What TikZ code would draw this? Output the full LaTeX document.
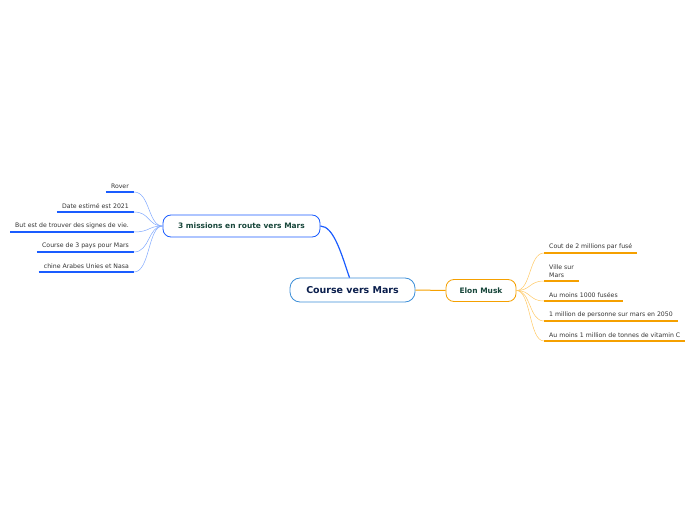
\documentclass[tikz,border=0pt]{standalone}
\usepackage{fontspec}
\setmainfont{DejaVu Sans}
\usetikzlibrary{positioning}
\definecolor{MarsBlue}{HTML}{1A5CFF}
\definecolor{MarsSky}{HTML}{3D8FD8}
\definecolor{MarsPaleBlue}{HTML}{7FA8FF}
\definecolor{MarsOrange}{HTML}{F5A000}
\definecolor{MarsPaleOrange}{HTML}{FFC864}
\definecolor{MarsNavy}{HTML}{0B1F4D}
\definecolor{MarsGreen}{HTML}{17463A}
\definecolor{MarsGray}{HTML}{333333}
\tikzset{
    % Central topic
    centralnode/.style={
        draw=MarsSky,
        fill=white,
        line width=0.8bp,
        rounded corners=10bp,
        minimum width=125bp,
        minimum height=24bp,
        text=MarsNavy,
        font=\fontsize{9.5}{11}\selectfont\bfseries
    },
    % Main topic
    topicnode/.style={
        fill=white,
        line width=0.8bp,
        rounded corners=8bp,
        minimum height=22bp,
        text=MarsGreen,
        font=\fontsize{7.5}{9}\selectfont\bfseries
    },
    % Leaf text on the left
    leftleaf/.style={
        anchor=south east,
        inner xsep=5bp,
        inner ysep=3.5bp,
        align=right,
        text=MarsGray,
        font=\fontsize{6.2}{8}\selectfont
    },
    % Leaf text on the right
    rightleaf/.style={
        anchor=south west,
        inner xsep=5bp,
        inner ysep=3.5bp,
        align=left,
        text=MarsGray,
        font=\fontsize{6.2}{8}\selectfont
    },
    % Connectors
    bluelink/.style={draw=MarsBlue, line width=1.2bp},
    orangelink/.style={draw=MarsOrange, line width=1bp},
    palebluelink/.style={draw=MarsPaleBlue, line width=0.5bp},
    paleorangelink/.style={draw=MarsPaleOrange, line width=0.5bp},
    % Underlines
    blueunder/.style={draw=MarsBlue, line width=1.6bp},
    orangeunder/.style={draw=MarsOrange, line width=1.6bp}
}
\begin{document}
\begin{tikzpicture}[x=1bp, y=-1bp]
    \useasboundingbox (0,0) rectangle (696,520);

    \node[centralnode] (mars) at (352.5,290) {Course vers Mars};
    \node[topicnode, draw=MarsBlue, minimum width=157bp] (missions) at (241.5,226) {3 missions en route vers Mars};
    \node[topicnode, draw=MarsOrange, minimum width=70bp] (musk) at (481,290.5) {Elon Musk};

    \draw[bluelink] ([xshift=-3bp]mars.north) .. controls (342,256) and (334,226) .. (missions.east);
    \draw[orangelink] (mars.east) -- (musk.west);

    % left leaves
    \node[leftleaf] (rover) at (134,192) {Rover};
    \node[leftleaf] (date) at (134,212) {Date estimé est 2021};
    \node[leftleaf] (signes) at (134,232) {But est de trouver des signes de vie.};
    \node[leftleaf] (pays) at (134,252) {Course de 3 pays pour Mars};
    \node[leftleaf] (chine) at (134,272) {chine Arabes Unies et Nasa};

    \draw[blueunder] (rover.south west) -- (rover.south east);
    \draw[blueunder] (date.south west) -- (date.south east);
    \draw[blueunder] (signes.south west) -- (signes.south east);
    \draw[blueunder] (pays.south west) -- (pays.south east);
    \draw[blueunder] (chine.south west) -- (chine.south east);

    \draw[palebluelink] (missions.west) .. controls (148,226) and (150,192) .. (rover.south east);
    \draw[palebluelink] (missions.west) .. controls (148,226) and (150,212) .. (date.south east);
    \draw[palebluelink] (missions.west) .. controls (148,226) and (150,232) .. (signes.south east);
    \draw[palebluelink] (missions.west) .. controls (148,226) and (150,252) .. (pays.south east);
    \draw[palebluelink] (missions.west) .. controls (148,226) and (150,272) .. (chine.south east);

    % right leaves
    \node[rightleaf] (cout) at (544,253) {Cout de 2 millions par fusé};
    \node[rightleaf] (ville) at (544,281) {Ville sur\\Mars};
    \node[rightleaf] (fusees) at (544,301) {Au moins 1000 fusées};
    \node[rightleaf] (personne) at (544,321) {1 million de personne sur mars en 2050};
    \node[rightleaf] (vitamin) at (544,341) {Au moins 1 million de tonnes de vitamin C};

    \draw[orangeunder] (cout.south west) -- (cout.south east);
    \draw[orangeunder] (ville.south west) -- (ville.south east);
    \draw[orangeunder] (fusees.south west) -- (fusees.south east);
    \draw[orangeunder] (personne.south west) -- (personne.south east);
    \draw[orangeunder] (vitamin.south west) -- (vitamin.south east);

    \draw[paleorangelink] (musk.east) .. controls (531,290.5) and (529,253) .. (cout.south west);
    \draw[paleorangelink] (musk.east) .. controls (531,290.5) and (529,281) .. (ville.south west);
    \draw[paleorangelink] (musk.east) .. controls (531,290.5) and (529,301) .. (fusees.south west);
    \draw[paleorangelink] (musk.east) .. controls (531,290.5) and (529,321) .. (personne.south west);
    \draw[paleorangelink] (musk.east) .. controls (531,290.5) and (529,341) .. (vitamin.south west);
\end{tikzpicture}
\end{document}
